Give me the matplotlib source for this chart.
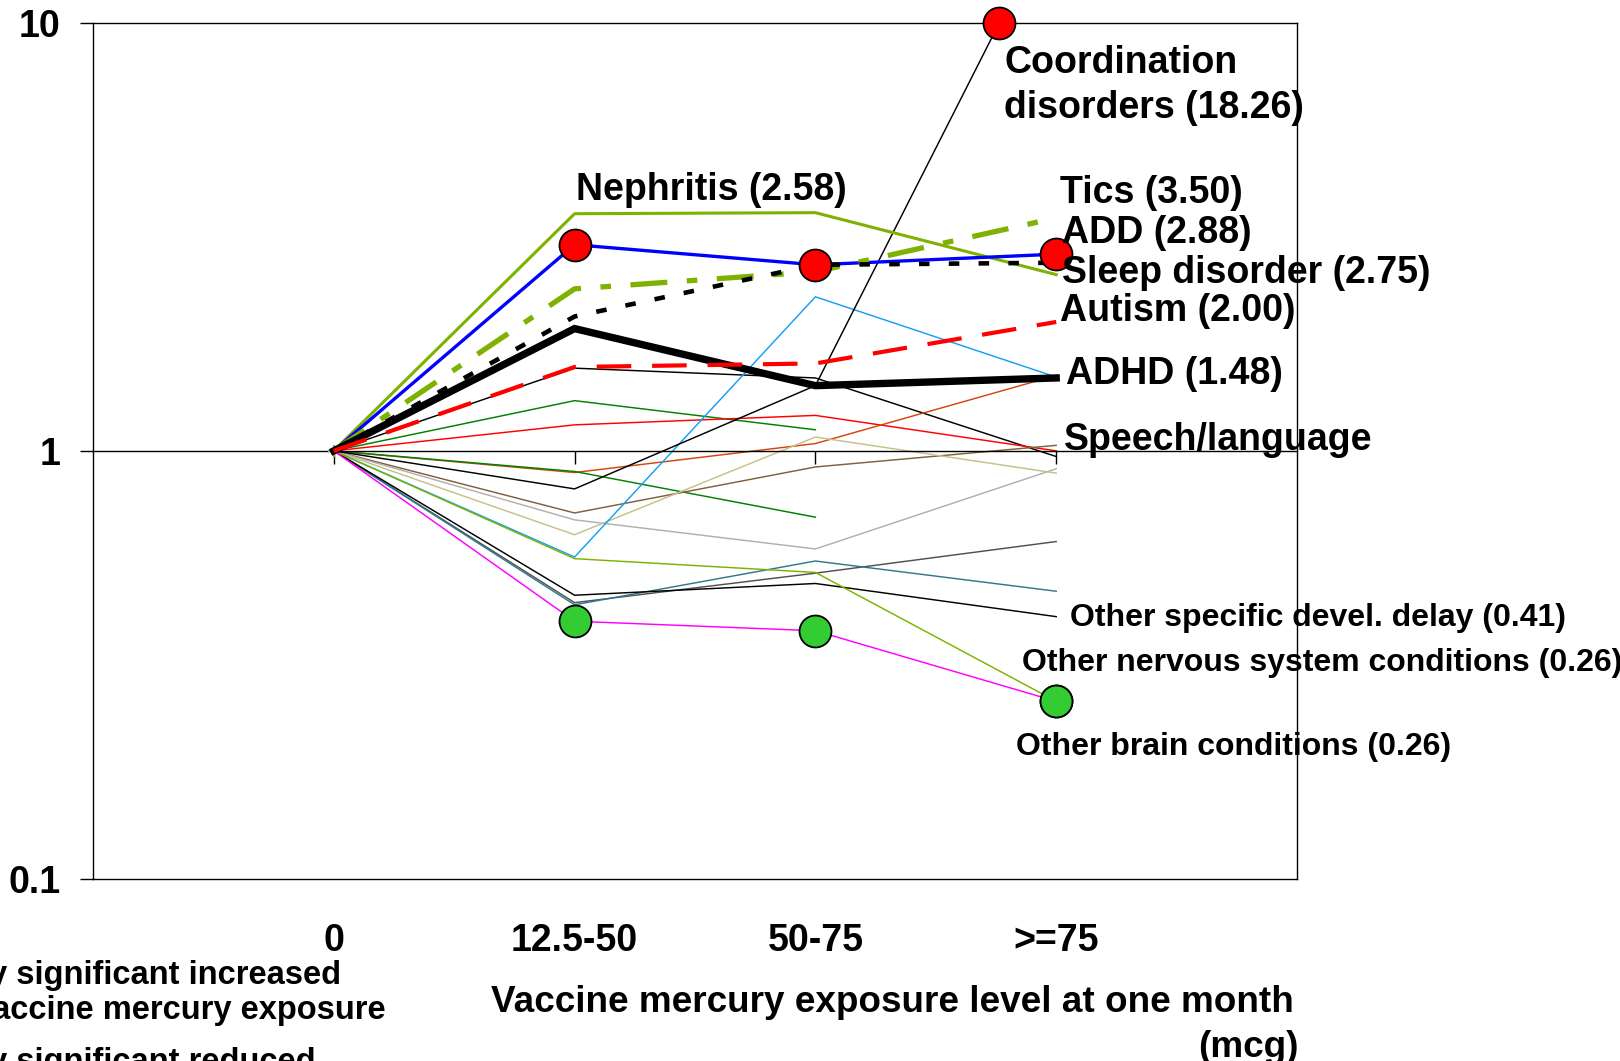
import numpy as np
import matplotlib
matplotlib.use('Agg')
import matplotlib.pyplot as plt
from matplotlib.ticker import NullLocator

plt.rcParams['font.family'] = ['Liberation Sans', 'DejaVu Sans']
plt.rcParams['font.weight'] = 'bold'

# ---------------- data ----------------
categories = ['0', '12.5-50', '50-75', '>=75']
nan = np.nan

# labelled outcomes (rate ratios vs. 0 exposure)
nephritis = [1, 3.58, 3.60, 2.58]
add = [1, 3.03, 2.72, 2.88]
tics = [1, 2.39, 2.62, 3.50]
sleep_disorder = [1, 2.06, 2.72, 2.75]
adhd = [1, 1.93, 1.42, 1.48]
autism = [1, 1.57, 1.60, 2.00]
coordination = [1, 0.815, 1.42, 18.26]
other_devel_delay = [1, 0.46, 0.49, 0.41]
other_nervous = [1, 0.56, 0.52, 0.26]
other_brain = [1, 0.40, 0.38, 0.26]

# other outcomes
thin_black = [1, 1.56, 1.48, 0.97]
dark_green_a = [1, 1.31, 1.12, nan]
thin_red = [1, 1.15, 1.21, 1.00]
orange = [1, 0.89, 1.04, 1.50]
dark_green_b = [1, 0.895, 0.70, nan]
brown = [1, 0.716, 0.917, 1.03]
grey = [1, 0.69, 0.59, 0.908]
tan = [1, 0.637, 1.077, 0.887]
light_blue = [1, 0.565, 2.29, 1.487]
dark_grey = [1, 0.442, 0.518, 0.614]
teal = [1, 0.437, 0.553, 0.47]

# statistically significant points
add_sig = [False, True, True, True]
brain_sig = [False, True, True, True]
nervous_sig = [False, False, False, True]

y_ticks = [0.1, 1, 10]
y_tick_labels = ['0.1', '1', '10']

# ---------------- figure ----------------
W, H = 1620, 1061
fig = plt.figure(figsize=(W / 100, H / 100), dpi=100)
ax = fig.add_axes([93 / W, 1 - 879 / H, (1297 - 93) / W, (879 - 22.7) / H])

xpos = np.arange(1, len(categories) + 1)

thin = 1.05
thin_series = [
    (thin_black, 'black'), (dark_green_a, '#008000'), (thin_red, '#FF0000'),
    (orange, '#D2460F'), (dark_green_b, '#008000'), (brown, '#7F6040'),
    (grey, '#B0B0B0'), (tan, '#C8C08A'), (light_blue, '#14A0F5'),
    (dark_grey, '#505050'), (teal, '#31788F'),
    (other_devel_delay, 'black'), (other_nervous, '#7DB300'),
    (other_brain, '#FF00FF'), (coordination, 'black'),
]
for vals, col in thin_series:
    ax.plot(xpos, vals, color=col, lw=thin, zorder=2)

# small origin marker
ax.plot(xpos[:1], brown[:1], marker='+', ms=9, mew=1.5, color='#B8905A', zorder=3)

ax.plot(xpos, nephritis, color='#7DB300', lw=2.2, zorder=3)
ax.plot(xpos, add, color='#0000FF', lw=2.4, zorder=3)
ax.plot(xpos, tics, color='#7DB300', lw=3.8, dashes=(7, 3.7, 2, 3.7), zorder=3)
ax.plot(xpos, sleep_disorder, color='black', lw=3.3, dashes=(2.3, 4.2), zorder=3)
ax.plot(xpos, adhd, color='black', lw=5.3, zorder=3, solid_joinstyle='miter')
ax.plot(xpos, autism, color='#FF0000', lw=3.0, dashes=(8.3, 5), zorder=3)

mk = dict(marker='o', ms=23, mec='black', mew=1.3, ls='none', zorder=5)
ax.plot(xpos[add_sig], np.array(add)[add_sig], mfc='#FF0000', **mk)
ax.plot(xpos[brain_sig], np.array(other_brain)[brain_sig], mfc='#33CC33', **mk)
ax.plot(xpos[nervous_sig], np.array(other_nervous)[nervous_sig], mfc='#33CC33', **mk)

# coordination disorders leaves the chart: mark where it crosses the top (10)
ytop = y_ticks[-1]
l0, l1 = np.log10(coordination[2]), np.log10(coordination[3])
t = (np.log10(ytop) - l0) / (l1 - l0)
x_cross = xpos[2] + t * (xpos[3] - xpos[2])
ax.plot([x_cross], [ytop], mfc='#FF0000', clip_on=False, **mk)

# ---------------- axes ----------------
ax.set_yscale('log')
ax.set_ylim(0.1, 10)
ax.set_xlim(0, 5)
ax.yaxis.set_minor_locator(NullLocator())
ax.set_yticks(y_ticks, y_tick_labels)
ax.tick_params(axis='y', length=9.4, width=1, pad=14, labelsize=27, direction='out')

ax.spines['bottom'].set_position(('data', 1))
ax.set_xticks(xpos)
ax.tick_params(axis='x', length=9.4, width=1, direction='out', labelbottom=False)
for s in ax.spines.values():
    s.set_linewidth(1.0)

sec = ax.secondary_xaxis('bottom')
sec.set_ticks(xpos, labels=categories)
sec.tick_params(length=0, pad=32, labelsize=27)
sec.spines['bottom'].set_linewidth(1.0)


def px(x, y):
    return (x / W, 1 - y / H)


big, small = 27, 23
labels_big = [
    (1004, 73, 'Coordination'),
    (1004, 118, 'disorders (18.26)'),
    (575.5, 200, 'Nephritis (2.58)'),
    (1060, 203, 'Tics (3.50)'),
    (1062, 243, 'ADD (2.88)'),
    (1062, 283, 'Sleep disorder (2.75)'),
    (1060, 321, 'Autism (2.00)'),
    (1066, 384, 'ADHD (1.48)'),
    (1064, 450, 'Speech/language'),
]
for x, y, s in labels_big:
    fig.text(*px(x, y), s, fontsize=big, va='baseline', ha='left')

labels_small = [
    (1070, 626, 'Other specific devel. delay (0.41)'),
    (1022, 671, 'Other nervous system conditions (0.26)'),
    (1016, 755, 'Other brain conditions (0.26)'),
]
for x, y, s in labels_small:
    fig.text(*px(x, y), s, fontsize=small, va='baseline', ha='left')

fig.text(*px(1294, 1012), 'Vaccine mercury exposure level at one month',
         fontsize=26.6, va='baseline', ha='right')
fig.text(*px(1299, 1057), '(mcg)', fontsize=26.6, va='baseline', ha='right')

fig.text(*px(341, 984), 'y significant increased', fontsize=23.5, va='baseline', ha='right')
fig.text(*px(386, 1019), 'vaccine mercury exposure', fontsize=23.5, va='baseline', ha='right')
fig.text(*px(316, 1071), 'y significant reduced', fontsize=23.5, va='baseline', ha='right')

fig.savefig('out.png', dpi=100)
